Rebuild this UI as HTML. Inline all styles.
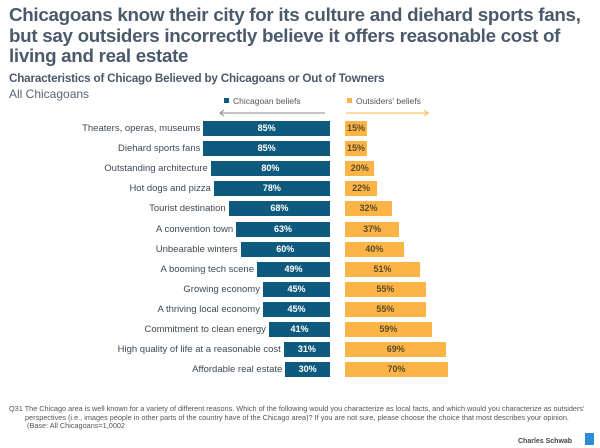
<!DOCTYPE html>
<html><head><style>
body{margin:0;width:600px;height:448px;background:#fff;font-family:"Liberation Sans",sans-serif;position:relative;overflow:hidden;color:#4a5766}
.t{position:absolute;left:9px;top:5px;font-size:18.8px;font-weight:bold;line-height:20.5px;color:#4b5a6b;white-space:nowrap;letter-spacing:-0.3px}
.s{position:absolute;left:9px;top:72px;font-size:11.7px;font-weight:bold;color:#4b5a6b;letter-spacing:-0.2px}
.a{position:absolute;left:9px;top:87px;font-size:12px;color:#5a6675}
.lab{position:absolute;font-size:9.5px;color:#3f4a55;text-align:right;width:280px;line-height:15px}
.b{position:absolute;height:15px;background:#0e5a7e;color:#fff;font-size:9px;font-weight:bold;text-align:center;line-height:15px}
.o{position:absolute;height:15px;background:#fbb445;color:#5a4a2a;font-size:9px;font-weight:bold;text-align:center;line-height:15px}
.f{position:absolute;left:9px;top:405px;font-size:7.3px;color:#555;line-height:8.5px;width:564px;padding-left:16px;text-indent:-16px}
</style></head><body>
<div class="t">Chicagoans know their city for its culture and diehard sports fans,<br>but say outsiders incorrectly believe it offers reasonable cost of<br>living and real estate</div>
<div class="s">Characteristics of Chicago Believed by Chicagoans or Out of Towners</div>
<div class="a">All Chicagoans</div>
<div style="position:absolute;left:224px;top:98px;width:5px;height:5px;background:#0e5a7e"></div>
<div style="position:absolute;left:233px;top:96px;font-size:8.5px;color:#555">Chicagoan beliefs</div>
<div style="position:absolute;left:347px;top:98px;width:5px;height:5px;background:#fbb445"></div>
<div style="position:absolute;left:356px;top:96px;font-size:8.5px;color:#555">Outsiders' beliefs</div>
<svg style="position:absolute;left:0;top:0" width="600" height="448">
<path d="M220 113H325M224 110L220 113L224 116" stroke="#888" stroke-width="1" fill="none"/>
<path d="M346 113H428M424 110L428 113L424 116" stroke="#fbb445" stroke-width="1" fill="none"/>
<rect x="585" y="433" width="9" height="12" fill="#2b8dd6"/>
</svg>
<div style="position:absolute;left:518px;top:438px;font-size:7px;font-weight:bold;color:#444">Charles Schwab</div>
<div id="c"></div>
<div class="f">Q31 The Chicago area is well known for a variety of different reasons. Which of the following would you characterize as local facts, and which would you characterize as outsiders' perspectives (i.e., images people in other parts of the country have of the Chicago area)? If you are not sure, please choose the choice that most describes your opinion. &nbsp;(Base: All Chicagoans=1,0002</div>
<script>
var d=[["Theaters, operas, museums",85],["Diehard sports fans",85],["Outstanding architecture",80],["Hot dogs and pizza",78],["Tourist destination",68],["A convention town",63],["Unbearable winters",60],["A booming tech scene",49],["Growing economy",45],["A thriving local economy",45],["Commitment to clean energy",41],["High quality of life at a reasonable cost",31],["Affordable real estate",30]];
var h="";d.forEach(function(r,i){var y=121+i*20.1,w=r[1]*1.49,l=330-w,o=100-r[1];
h+='<div class="lab" style="left:'+(l-283)+'px;top:'+y+'px">'+r[0]+'</div>';
h+='<div class="b" style="left:'+l+'px;top:'+y+'px;width:'+w+'px">'+r[1]+'%</div>';
h+='<div class="o" style="left:345px;top:'+y+'px;width:'+(o*1.47)+'px">'+o+'%</div>';});
document.getElementById("c").innerHTML=h;
</script>
</body></html>
